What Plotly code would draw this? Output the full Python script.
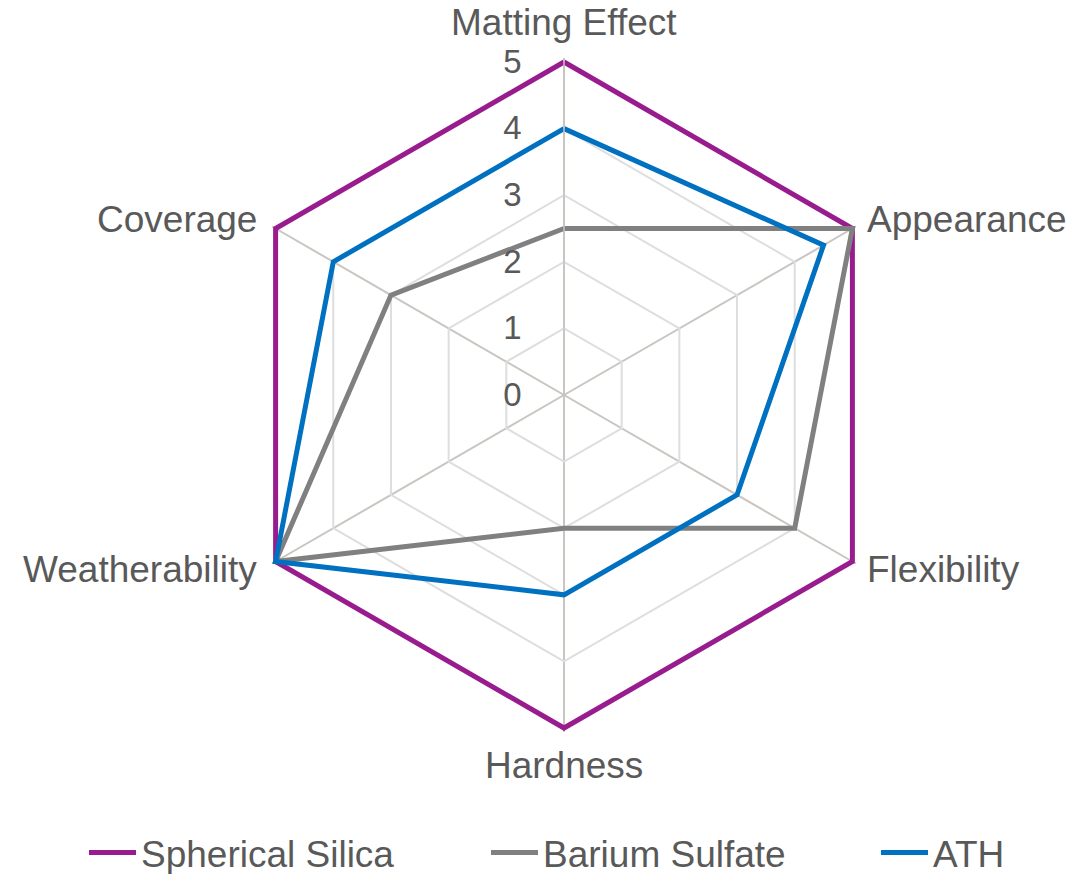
import math
import plotly.graph_objects as go

categories = ["Matting Effect", "Appearance", "Flexibility", "Hardness", "Weatherability", "Coverage"]
spherical_silica = [5, 5, 5, 5, 5, 5]
barium_sulfate = [2.5, 5, 4, 2, 5, 3]
ath = [4, 4.5, 3, 3, 5, 4]

series = [
    ("Spherical Silica", spherical_silica, "#991C8E"),
    ("Barium Sulfate", barium_sulfate, "#808080"),
    ("ATH", ath, "#0070C0"),
]

text_color = "#595959"
font_family = "Liberation Sans, Arial, sans-serif"

W, H = 1089, 874
MB = 70                         # bottom margin reserved for the legend row
PLOT_H = H - MB
CX, CY, R5 = 564, 395, 333      # centre and radius of the value-5 ring, px
R_MAX = 5.06                    # a little headroom so the outer ring line is not clipped
R_PX = R5 * R_MAX / 5

# one legend per series so each entry sits at its own x position
legend_ids = ["legend", "legend2", "legend3"]
legend_x_px = [84, 486, 876]

fig = go.Figure()
for (name, values, color), lid in zip(series, legend_ids):
    fig.add_trace(go.Scatterpolar(
        r=values + values[:1],
        theta=categories + categories[:1],
        mode="lines",
        name=name,
        line=dict(color=color, width=5),
        cliponaxis=False,
        legend=lid,
        showlegend=True,
    ))

# category labels just outside each spoke tip
annotations = []
n = len(categories)
for i, cat in enumerate(categories):
    ang = math.radians(90 - 360 * i / n)
    vx = CX + R5 * math.cos(ang)
    vy = CY - R5 * math.sin(ang)
    c, s = math.cos(ang), math.sin(ang)
    if abs(c) < 1e-6:
        # top / bottom spokes: centred label above or below the tip
        x, y = vx, vy - 39 if s > 0 else vy + 37
        xanchor = "center"
    else:
        x = vx + (13 if c > 0 else -17)
        y = vy - 9 if s > 0 else vy + 8
        xanchor = "left" if c > 0 else "right"
    annotations.append(dict(
        text=cat, x=x / W, y=1 - y / PLOT_H, xref="paper", yref="paper",
        xanchor=xanchor, yanchor="middle", showarrow=False,
        font=dict(size=37, color=text_color, family=font_family),
    ))

legend_style = dict(
    visible=True,
    orientation="h",
    xanchor="left",
    yref="container",
    y=(H - 853) / H,
    yanchor="middle",
    font=dict(size=37, color=text_color, family=font_family),
    itemwidth=47,
    bgcolor="rgba(0,0,0,0)",
)

fig.update_layout(
    width=W,
    height=H,
    showlegend=True,
    margin=dict(l=0, r=0, t=0, b=MB),
    paper_bgcolor="white",
    plot_bgcolor="white",
    font=dict(family=font_family, color=text_color, size=36),
    annotations=annotations,
    polar=dict(
        domain=dict(x=[(CX - R_PX) / W, (CX + R_PX) / W],
                    y=[1 - (CY + R_PX) / PLOT_H, 1 - (CY - R_PX) / PLOT_H]),
        bgcolor="white",
        gridshape="linear",
        angularaxis=dict(
            direction="clockwise",
            rotation=90,
            showline=False,
            showticklabels=False,
            gridcolor="#C9C5C1",
            gridwidth=1.5,
            ticks="",
        ),
        radialaxis=dict(
            range=[0, R_MAX],
            tickvals=[0, 1, 2, 3, 4, 5],
            angle=90,
            tickangle=90,
            side="counterclockwise",
            showline=True,
            linecolor="#C9C5C1",
            linewidth=1.5,
            gridcolor="#DEDEDE",
            gridwidth=1.5,
            ticks="outside",
            ticklen=30,
            tickcolor="rgba(0,0,0,0)",
            tickfont=dict(size=33, color=text_color),
        ),
    ),
    legend=dict(legend_style, x=legend_x_px[0] / W),
    legend2=dict(legend_style, x=legend_x_px[1] / W),
    legend3=dict(legend_style, x=legend_x_px[2] / W),
)

fig.write_html("out.html")
